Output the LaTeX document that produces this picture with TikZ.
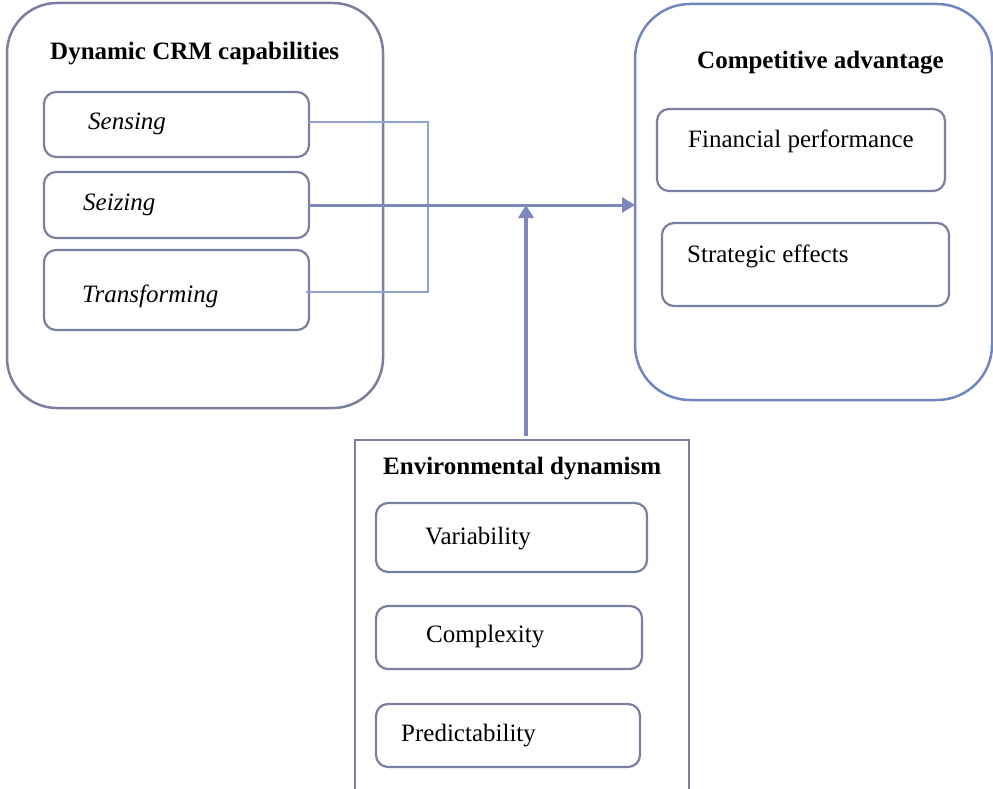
\documentclass[tikz,border=0pt]{standalone}
\usepackage{fontspec}
\setmainfont{Liberation Serif}
\usetikzlibrary{arrows.meta}
\definecolor{boxc}{RGB}{122,126,162}
\definecolor{rboxc}{RGB}{112,134,190}
\definecolor{linec}{RGB}{143,163,209}
\definecolor{mainc}{RGB}{125,136,188}
\begin{document}
\begin{tikzpicture}[x=1pt,y=-1pt,
  big/.style={draw=boxc, line width=2.5pt, rounded corners=50pt, inner sep=0pt, outer sep=0pt},
  item/.style={draw=boxc, line width=2.2pt, rounded corners=12pt, inner sep=0pt, outer sep=0pt},
  lbl/.style={anchor=base west, inner sep=0pt, font=\fontsize{25}{30}\selectfont},
  ttl/.style={lbl, font=\fontsize{25}{30}\selectfont\bfseries},
  itl/.style={lbl, font=\fontsize{25}{30}\selectfont\itshape},
  conn/.style={draw=linec, line width=2pt},
  mainarrow/.style={draw=mainc, line width=3pt, -{Triangle[length=13pt,width=15pt]}},
  uparrow/.style={draw=mainc, line width=4pt, -{Triangle[length=13pt,width=15pt]}}]
\clip (0,0) rectangle (993,789);
% left group
\node[big, minimum width=376pt, minimum height=405pt] (crm) at (195,205.5) {};
\node[ttl] (crmt) at (50,60) {Dynamic CRM capabilities};
\node[item, minimum width=265pt, minimum height=65pt] (sens) at (176.5,124.5) {};
\node[item, minimum width=265pt, minimum height=66pt] (seiz) at (176.5,205) {};
\node[item, minimum width=265pt, minimum height=80pt] (trans) at (176.5,290) {};
\node[itl] (senst) at (88,130) {Sensing};
\node[itl] (seizt) at (83,210) {Seizing};
\node[itl] (transt) at (82,302) {Transforming};
% right group
\node[big, draw=rboxc, rounded corners=55pt, minimum width=357pt, minimum height=396pt] (ca) at (813.5,202) {};
\node[ttl] (cat) at (697,69) {Competitive advantage};
\node[item, minimum width=288pt, minimum height=82pt] (fin) at (801,150) {};
\node[item, minimum width=287pt, minimum height=83pt] (strat) at (805.5,264.5) {};
\node[lbl] (fint) at (688,147) {Financial performance};
\node[lbl] (stratt) at (687,262) {Strategic effects};
% bottom group
\node[draw=boxc, line width=2.5pt, inner sep=0pt, outer sep=0pt, minimum width=334pt, minimum height=360pt] (env) at (522,620) {};
\node[ttl] (envt) at (383,474) {Environmental dynamism};
\node[item, minimum width=271pt, minimum height=69pt] (var) at (511.5,537.5) {};
\node[item, minimum width=266pt, minimum height=63pt] (comp) at (509,637.5) {};
\node[item, minimum width=264pt, minimum height=63pt] (pred) at (508,735.5) {};
\node[lbl] (vart) at (425,544) {Variability};
\node[lbl] (compt) at (426,642) {Complexity};
\node[lbl] (predt) at (401,741) {Predictability};
% connectors
\coordinate (j1) at (428,122);
\coordinate (j2) at (428,292);
\coordinate (v) at (526,436);
\draw[conn] (sens.east |- j1) -- (j1) -- (j2) -- ([xshift=-3pt]trans.east |- j2);
\draw[mainarrow] (seiz.east) -- (seiz.east -| ca.west);
\draw[uparrow] (v) -- (v |- seiz.east);
\end{tikzpicture}
\end{document}
